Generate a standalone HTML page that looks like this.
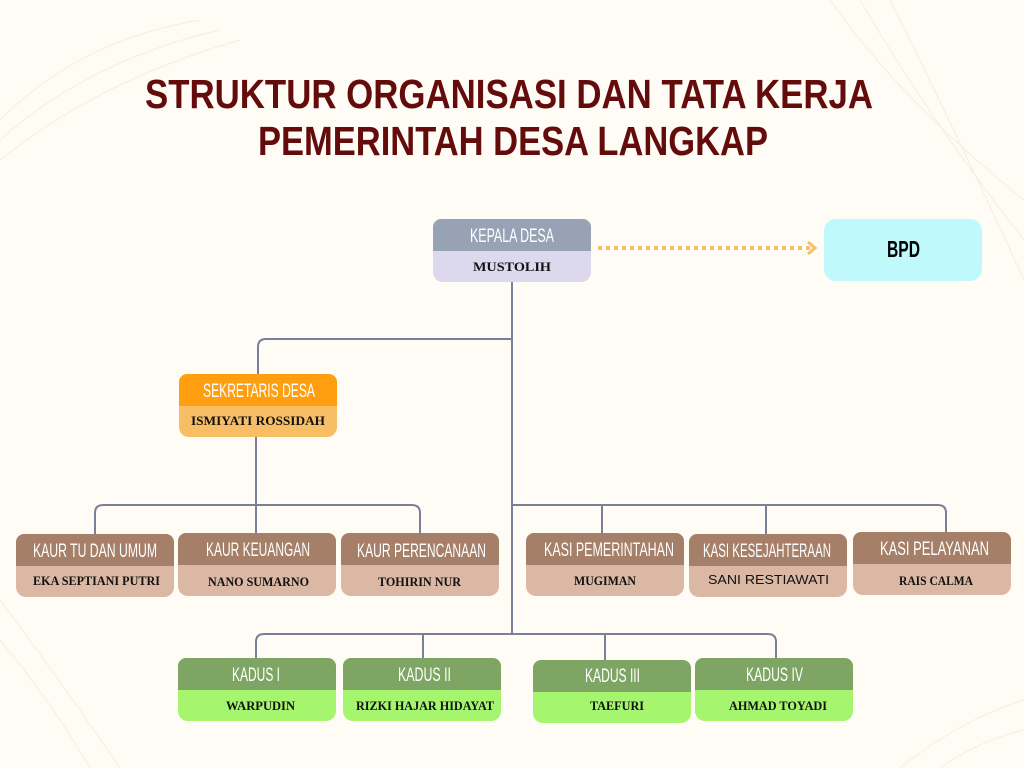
<!DOCTYPE html>
<html><head><meta charset="utf-8"><style>
html,body{margin:0;padding:0;background:#fefcf5;}
svg{display:block}
.h{font-family:"Liberation Sans Narrow","Liberation Sans",sans-serif;font-size:19px;fill:#fff;}
.n{font-family:"Liberation Serif",serif;font-weight:bold;font-size:13px;fill:#111;}
.t{font-family:"Liberation Sans Narrow","Liberation Sans",sans-serif;font-weight:bold;font-size:41px;fill:#640b0b;}
</style></head><body>
<svg width="1024" height="768" viewBox="0 0 1024 768" xmlns="http://www.w3.org/2000/svg">
<rect width="1024" height="768" fill="#fefcf5"/>
<g fill="none" stroke="#efe5d6" stroke-width="1" opacity="0.6">
<path d="M0 120 Q80 40 200 20"/><path d="M0 140 Q90 60 220 30"/><path d="M0 160 Q100 80 240 40"/>
<path d="M830 0 Q900 100 1024 200"/><path d="M860 0 Q930 120 1024 240"/><path d="M890 0 Q960 140 1024 280"/>
<path d="M0 600 Q60 680 120 768"/><path d="M0 640 Q50 700 90 768"/>
<path d="M900 768 Q960 720 1024 700"/><path d="M940 768 Q980 740 1024 730"/>
</g>
<text class="t" x="145" y="108" textLength="728" lengthAdjust="spacingAndGlyphs">STRUKTUR ORGANISASI DAN TATA KERJA</text>
<text class="t" x="258" y="155" textLength="510" lengthAdjust="spacingAndGlyphs">PEMERINTAH DESA LANGKAP</text>

<g fill="none" stroke="#7a7f9a" stroke-width="2">
<path d="M512 282 V634"/>
<path d="M512 339 H266 Q258 339 258 347 V374"/>
<path d="M256 437 V533"/>
<path d="M95 534 V513 Q95 505 103 505 H412 Q420 505 420 513 V533"/>
<path d="M512 505 H938 Q946 505 946 513 V532"/>
<path d="M602 505 V533"/><path d="M766 505 V534"/>
<path d="M256 658 V642 Q256 634 264 634 H768 Q776 634 776 642 V658"/>
<path d="M423 634 V658"/><path d="M605 634 V660"/>
</g>
<path d="M598 248 H814" stroke="#f6bf66" stroke-width="4" stroke-dasharray="4 4"/>
<path d="M808 242 L815 248 L808 254" stroke="#f6bf66" stroke-width="3" fill="none"/>

<rect x="824" y="219" width="158" height="62" rx="12" fill="#bff9fb"/>
<text x="887" y="257" textLength="33" lengthAdjust="spacingAndGlyphs" font-family="Liberation Sans Narrow,Liberation Sans,sans-serif" font-weight="bold" font-size="23" fill="#000">BPD</text>

<g>
<rect x="433" y="219" width="158" height="63" rx="10" fill="#dcd9ee"/><rect x="433" y="219" width="158" height="32" rx="8" fill="#97a3b4"/><rect x="433" y="241" width="158" height="10" fill="#97a3b4"/>
<text class="h" x="470" y="242" textLength="84" lengthAdjust="spacingAndGlyphs">KEPALA DESA</text>
<text class="n" x="473" y="271" textLength="78" lengthAdjust="spacingAndGlyphs">MUSTOLIH</text>
<rect x="179" y="374" width="158" height="63" rx="10" fill="#f8be65"/><rect x="179" y="374" width="158" height="32" rx="8" fill="#ff9f10"/><rect x="179" y="396" width="158" height="10" fill="#ff9f10"/>
<text class="h" x="203" y="397" textLength="112" lengthAdjust="spacingAndGlyphs">SEKRETARIS DESA</text>
<text class="n" x="191" y="425" textLength="134" lengthAdjust="spacingAndGlyphs">ISMIYATI ROSSIDAH</text>
</g>
<g>
<rect x="16" y="534" width="158" height="63" rx="10" fill="#dbb8a4"/><rect x="16" y="534" width="158" height="32" rx="8" fill="#a57f68"/><rect x="16" y="556" width="158" height="10" fill="#a57f68"/>
<text class="h" x="33" y="557" textLength="124" lengthAdjust="spacingAndGlyphs">KAUR TU DAN UMUM</text>
<text class="n" x="33" y="585" textLength="127" lengthAdjust="spacingAndGlyphs">EKA SEPTIANI PUTRI</text>
<rect x="178" y="533" width="158" height="63" rx="10" fill="#dbb8a4"/><rect x="178" y="533" width="158" height="32" rx="8" fill="#a57f68"/><rect x="178" y="555" width="158" height="10" fill="#a57f68"/>
<text class="h" x="206" y="556" textLength="104" lengthAdjust="spacingAndGlyphs">KAUR KEUANGAN</text>
<text class="n" x="208" y="586" textLength="101" lengthAdjust="spacingAndGlyphs">NANO SUMARNO</text>
<rect x="341" y="533" width="158" height="63" rx="10" fill="#dbb8a4"/><rect x="341" y="533" width="158" height="32" rx="8" fill="#a57f68"/><rect x="341" y="555" width="158" height="10" fill="#a57f68"/>
<text class="h" x="357" y="557" textLength="129" lengthAdjust="spacingAndGlyphs">KAUR PERENCANAAN</text>
<text class="n" x="378" y="586" textLength="83" lengthAdjust="spacingAndGlyphs">TOHIRIN NUR</text>
<rect x="526" y="533" width="158" height="63" rx="10" fill="#dbb8a4"/><rect x="526" y="533" width="158" height="32" rx="8" fill="#a57f68"/><rect x="526" y="555" width="158" height="10" fill="#a57f68"/>
<text class="h" x="544" y="556" textLength="130" lengthAdjust="spacingAndGlyphs">KASI PEMERINTAHAN</text>
<text class="n" x="574" y="585" textLength="62" lengthAdjust="spacingAndGlyphs">MUGIMAN</text>
<rect x="689" y="534" width="158" height="63" rx="10" fill="#dbb8a4"/><rect x="689" y="534" width="158" height="32" rx="8" fill="#a57f68"/><rect x="689" y="556" width="158" height="10" fill="#a57f68"/>
<text class="h" x="703" y="557" textLength="128" lengthAdjust="spacingAndGlyphs">KASI KESEJAHTERAAN</text>
<text x="708" y="584" textLength="121" lengthAdjust="spacingAndGlyphs" font-family="Liberation Sans,sans-serif" font-size="13" fill="#111">SANI RESTIAWATI</text>
<rect x="853" y="532" width="158" height="63" rx="10" fill="#dbb8a4"/><rect x="853" y="532" width="158" height="32" rx="8" fill="#a57f68"/><rect x="853" y="554" width="158" height="10" fill="#a57f68"/>
<text class="h" x="880" y="555" textLength="109" lengthAdjust="spacingAndGlyphs">KASI PELAYANAN</text>
<text class="n" x="899" y="585" textLength="74" lengthAdjust="spacingAndGlyphs">RAIS CALMA</text>
</g>
<g>
<rect x="178" y="658" width="158" height="63" rx="10" fill="#a5f56f"/><rect x="178" y="658" width="158" height="32" rx="8" fill="#7fa564"/><rect x="178" y="680" width="158" height="10" fill="#7fa564"/>
<text class="h" x="232" y="681" textLength="48" lengthAdjust="spacingAndGlyphs">KADUS I</text>
<text class="n" x="226" y="710" textLength="69" lengthAdjust="spacingAndGlyphs">WARPUDIN</text>
<rect x="343" y="658" width="158" height="63" rx="10" fill="#a5f56f"/><rect x="343" y="658" width="158" height="32" rx="8" fill="#7fa564"/><rect x="343" y="680" width="158" height="10" fill="#7fa564"/>
<text class="h" x="398" y="681" textLength="53" lengthAdjust="spacingAndGlyphs">KADUS II</text>
<text class="n" x="356" y="710" textLength="138" lengthAdjust="spacingAndGlyphs">RIZKI HAJAR HIDAYAT</text>
<rect x="533" y="660" width="158" height="63" rx="10" fill="#a5f56f"/><rect x="533" y="660" width="158" height="32" rx="8" fill="#7fa564"/><rect x="533" y="682" width="158" height="10" fill="#7fa564"/>
<text class="h" x="585" y="682" textLength="55" lengthAdjust="spacingAndGlyphs">KADUS III</text>
<text class="n" x="590" y="710" textLength="54" lengthAdjust="spacingAndGlyphs">TAEFURI</text>
<rect x="695" y="658" width="158" height="63" rx="10" fill="#a5f56f"/><rect x="695" y="658" width="158" height="32" rx="8" fill="#7fa564"/><rect x="695" y="680" width="158" height="10" fill="#7fa564"/>
<text class="h" x="746" y="681" textLength="57" lengthAdjust="spacingAndGlyphs">KADUS IV</text>
<text class="n" x="729" y="710" textLength="98" lengthAdjust="spacingAndGlyphs">AHMAD TOYADI</text>
</g>
</svg>
</body></html>
